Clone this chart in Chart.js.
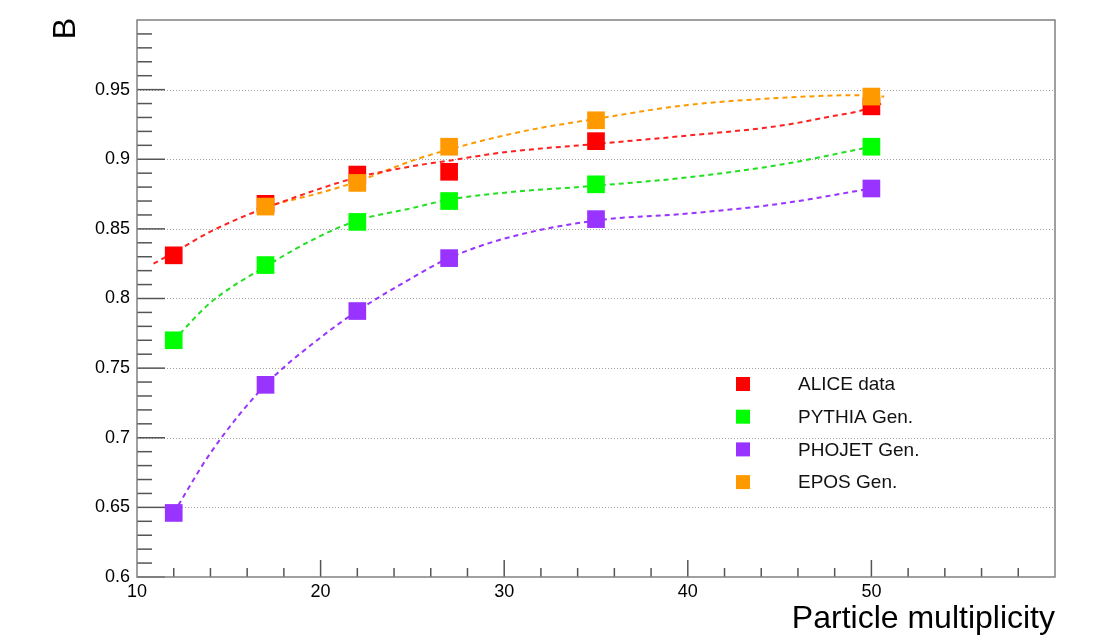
<!DOCTYPE html>
<html>
<head>
<meta charset="utf-8">
<script src="https://cdn.jsdelivr.net/npm/chart.js@4.4.1/dist/chart.umd.min.js"></script>
<style>
  html, body { margin: 0; padding: 0; background: #fff; }
  #wrap { width: 1098px; height: 642px; }
</style>
</head>
<body>
<div id="wrap"><canvas id="chart" width="1098" height="642"></canvas></div>
<script>
// measured points
const multiplicity = [12, 17, 22, 27, 35, 50];
const aliceData = [0.831, 0.868, 0.889, 0.891, 0.913, 0.938];
const pythiaGen = [0.770, 0.824, 0.855, 0.870, 0.882, 0.909];
const phojetGen = [0.646, 0.738, 0.791, 0.829, 0.857, 0.879];
const eposX = [17, 22, 27, 35, 50];
const eposGen = [0.866, 0.883, 0.909, 0.928, 0.945];

// fit curves
const aliceFitX = [10.9, 12, 14, 16, 17, 20, 22, 25, 27, 30, 35, 40, 45, 47.5, 50, 50.7];
const aliceFitY = [0.825, 0.833, 0.848, 0.860, 0.865, 0.879, 0.887, 0.895, 0.899, 0.905, 0.911, 0.917, 0.924, 0.930, 0.937, 0.941];
const pythiaFitX = [12, 14, 17, 20, 22, 25, 27, 30, 35, 40, 45, 50];
const pythiaFitY = [0.770, 0.797, 0.823, 0.845, 0.856, 0.865, 0.871, 0.876, 0.881, 0.887, 0.896, 0.909];
const phojetFitX = [12, 14, 17, 20, 22, 25, 27, 30, 35, 40, 45, 50];
const phojetFitY = [0.646, 0.689, 0.738, 0.772, 0.791, 0.815, 0.829, 0.843, 0.856, 0.861, 0.868, 0.879];
const eposFitX = [16.5, 17, 20, 22, 25, 27, 31, 35, 40, 45, 49, 50.7];
const eposFitY = [0.864, 0.866, 0.876, 0.884, 0.899, 0.907, 0.920, 0.929, 0.939, 0.944, 0.946, 0.945];

const xTicks = [10, 20, 30, 40, 50];
const yTicks = [0.6, 0.65, 0.7, 0.75, 0.8, 0.85, 0.9, 0.95];

const FONT = '"Liberation Sans", Arial, Helvetica, sans-serif';

function pts(xs, ys) { return xs.map((x, i) => ({ x, y: ys[i] })); }

function markers(label, xs, ys, color, order) {
    return {
        type: 'scatter', label, data: pts(xs, ys), legendEntry: true,
        backgroundColor: color, borderColor: color, borderWidth: 0,
        pointStyle: 'rect', pointRadius: 12.5, order
    };
}

function fit(xs, ys, color) {
    return {
        type: 'line', data: pts(xs, ys), borderColor: color, borderWidth: 2,
        borderDash: [5, 4], pointRadius: 0, cubicInterpolationMode: 'monotone',
        fill: false, order: 10
    };
}

// ROOT-like frame: inside ticks, dotted grid, legend, axis titles
const rootFrame = {
    id: 'rootFrame',
    beforeDatasetsDraw(chart) {
        const { ctx, chartArea: a, scales: { y } } = chart;
        ctx.save();
        ctx.strokeStyle = '#a0a0a0';
        ctx.lineWidth = 1;
        ctx.setLineDash([1, 2]);
        yTicks.forEach(v => {
            if (v <= 0.6) return;
            const py = Math.round(y.getPixelForValue(v)) + 0.5;
            ctx.beginPath(); ctx.moveTo(a.left, py); ctx.lineTo(a.right, py); ctx.stroke();
        });
        ctx.restore();
    },
    afterDatasetsDraw(chart) {
        const { ctx, chartArea: a, scales: { x, y } } = chart;
        ctx.save();
        // ticks
        ctx.strokeStyle = '#555';
        ctx.lineWidth = 1.5;
        for (let i = 60; i < 100; i++) {
            const py = y.getPixelForValue(i / 100);
            const len = i % 5 === 0 ? 28 : 15;
            ctx.beginPath(); ctx.moveTo(a.left, py); ctx.lineTo(a.left + len, py); ctx.stroke();
        }
        for (let i = 12; i < 60; i += 2) {
            const px = x.getPixelForValue(i);
            const len = i % 10 === 0 ? 17 : 9;
            ctx.beginPath(); ctx.moveTo(px, a.bottom); ctx.lineTo(px, a.bottom - len); ctx.stroke();
        }
        // frame
        ctx.strokeStyle = '#808080';
        ctx.lineWidth = 1.5;
        ctx.strokeRect(a.left, a.top, a.right - a.left, a.bottom - a.top);

        // legend
        const items = chart.data.datasets.filter(d => d.legendEntry);
        ctx.font = '19px ' + FONT;
        ctx.textBaseline = 'middle';
        ctx.textAlign = 'left';
        items.forEach((d, i) => {
            const cy = 384 + i * 32.7;
            ctx.fillStyle = d.backgroundColor;
            ctx.fillRect(736, cy - 7, 14, 14);
            ctx.fillStyle = '#111';
            ctx.fillText(d.label, 798, cy + 1);
        });

        // axis titles
        ctx.fillStyle = '#000';
        ctx.font = '32px ' + FONT;
        ctx.textAlign = 'right';
        ctx.textBaseline = 'alphabetic';
        ctx.fillText('Particle multiplicity', a.right, 628);
        ctx.translate(75, 18);
        ctx.rotate(-Math.PI / 2);
        ctx.fillText('B', 0, 0);
        ctx.restore();
    }
};

new Chart(document.getElementById('chart'), {
    data: {
        datasets: [
            markers('ALICE data', multiplicity, aliceData, '#ff0000', 3),
            markers('PYTHIA Gen.', multiplicity, pythiaGen, '#00ff00', 2),
            markers('PHOJET Gen.', multiplicity, phojetGen, '#9933ff', 1),
            markers('EPOS Gen.', eposX, eposGen, '#ff9900', 0),
            fit(aliceFitX, aliceFitY, '#ff2020'),
            fit(pythiaFitX, pythiaFitY, '#20e020'),
            fit(phojetFitX, phojetFitY, '#9933ff'),
            fit(eposFitX, eposFitY, '#ff9900')
        ]
    },
    options: {
        responsive: false,
        animation: false,
        events: [],
        layout: { padding: { left: 0, right: 43, top: 20, bottom: 0 } },
        plugins: { legend: { display: false }, tooltip: { enabled: false } },
        scales: {
            x: {
                type: 'linear', min: 10, max: 60,
                afterBuildTicks: s => { s.ticks = xTicks.concat([60]).map(v => ({ value: v })); },
                ticks: {
                    callback: v => (v === 60 ? '' : String(v)),
                    color: '#000', font: { family: FONT, size: 18 }, padding: 4, maxRotation: 0
                },
                grid: { display: false, drawTicks: false },
                border: { display: false },
                afterFit: s => { s.height = 65; }
            },
            y: {
                type: 'linear', min: 0.6, max: 1.0,
                afterBuildTicks: s => { s.ticks = yTicks.concat([1.0]).map(v => ({ value: v })); },
                ticks: {
                    callback: v => (v >= 0.999 ? '' : String(+v.toFixed(2))),
                    color: '#000', font: { family: FONT, size: 18 }, padding: 7
                },
                grid: { display: false, drawTicks: false },
                border: { display: false },
                afterFit: s => { s.width = 137; }
            }
        }
    },
    plugins: [rootFrame]
});
</script>
</body>
</html>
